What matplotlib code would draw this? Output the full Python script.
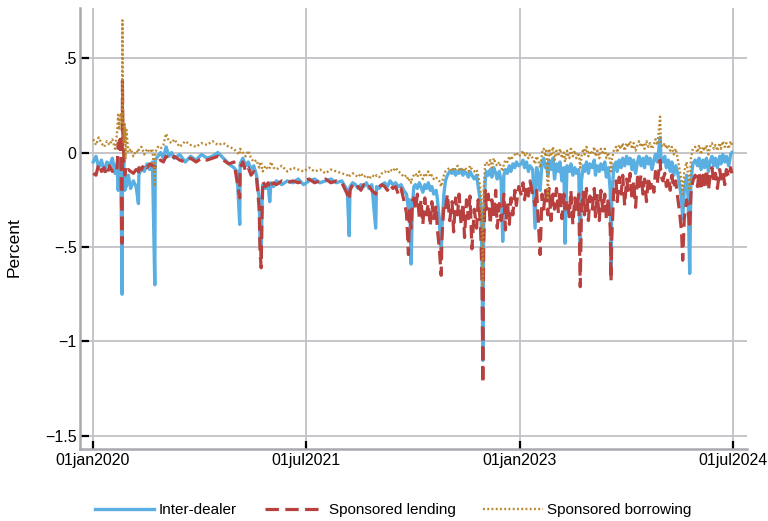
import matplotlib
matplotlib.use('Agg')
import matplotlib.pyplot as plt
import pandas as pd

# ---------------- data ----------------
dates = [
    '2020-01-02', '2020-01-09', '2020-01-16', '2020-01-23', '2020-01-30', '2020-02-06', '2020-02-13', '2020-02-20', '2020-02-27', '2020-03-03',
    '2020-03-06', '2020-03-09', '2020-03-11', '2020-03-13', '2020-03-16', '2020-03-17', '2020-03-18', '2020-03-20', '2020-03-23', '2020-03-25',
    '2020-03-27', '2020-04-01', '2020-04-07', '2020-04-14', '2020-04-21', '2020-04-27', '2020-04-28', '2020-05-05', '2020-05-12', '2020-05-19',
    '2020-05-26', '2020-06-02', '2020-06-08', '2020-06-09', '2020-06-16', '2020-06-23', '2020-06-30', '2020-07-07', '2020-07-14', '2020-07-21',
    '2020-07-28', '2020-08-11', '2020-08-25', '2020-09-08', '2020-09-22', '2020-10-06', '2020-10-20', '2020-11-03', '2020-11-17', '2020-12-01',
    '2020-12-15', '2020-12-28', '2021-01-05', '2021-01-12', '2021-01-13', '2021-01-20', '2021-01-27', '2021-02-03', '2021-02-10', '2021-02-17',
    '2021-02-24', '2021-03-03', '2021-03-05', '2021-03-08', '2021-03-10', '2021-03-12', '2021-03-19', '2021-03-26', '2021-03-30', '2021-04-02',
    '2021-04-09', '2021-04-16', '2021-04-30', '2021-05-14', '2021-05-28', '2021-06-11', '2021-06-25', '2021-07-09', '2021-07-23', '2021-08-06',
    '2021-08-20', '2021-09-03', '2021-09-17', '2021-10-01', '2021-10-15', '2021-10-20', '2021-10-22', '2021-10-29', '2021-11-05', '2021-11-12',
    '2021-11-19', '2021-11-26', '2021-12-03', '2021-12-10', '2021-12-17', '2021-12-27', '2021-12-29', '2022-01-05', '2022-01-12', '2022-01-19',
    '2022-01-26', '2022-02-02', '2022-02-09', '2022-02-16', '2022-02-23', '2022-03-02', '2022-03-09', '2022-03-16', '2022-03-21', '2022-03-24',
    '2022-03-28', '2022-03-31', '2022-04-04', '2022-04-08', '2022-04-13', '2022-04-18', '2022-04-22', '2022-04-27', '2022-05-02', '2022-05-06',
    '2022-05-11', '2022-05-16', '2022-05-20', '2022-05-25', '2022-05-31', '2022-06-03', '2022-06-08', '2022-06-13', '2022-06-15', '2022-06-20',
    '2022-06-24', '2022-06-29', '2022-07-05', '2022-07-11', '2022-07-15', '2022-07-20', '2022-07-25', '2022-07-29', '2022-08-03', '2022-08-08',
    '2022-08-12', '2022-08-17', '2022-08-22', '2022-08-26', '2022-08-31', '2022-09-06', '2022-09-12', '2022-09-16', '2022-09-21', '2022-09-23',
    '2022-09-26', '2022-09-28', '2022-09-30', '2022-10-04', '2022-10-07', '2022-10-12', '2022-10-17', '2022-10-21', '2022-10-26', '2022-10-31',
    '2022-11-04', '2022-11-09', '2022-11-14', '2022-11-18', '2022-11-21', '2022-11-25', '2022-11-30', '2022-12-05', '2022-12-09', '2022-12-14',
    '2022-12-19', '2022-12-23', '2022-12-29', '2023-01-04', '2023-01-09', '2023-01-13', '2023-01-18', '2023-01-23', '2023-01-27', '2023-02-03',
    '2023-02-09', '2023-02-13', '2023-02-17', '2023-02-22', '2023-02-27', '2023-03-03', '2023-03-08', '2023-03-10', '2023-03-14', '2023-03-17',
    '2023-03-22', '2023-03-27', '2023-03-31', '2023-04-05', '2023-04-10', '2023-04-14', '2023-04-19', '2023-04-24', '2023-04-27', '2023-05-02',
    '2023-05-08', '2023-05-12', '2023-05-17', '2023-05-22', '2023-05-26', '2023-06-01', '2023-06-05', '2023-06-08', '2023-06-13', '2023-06-16',
    '2023-06-21', '2023-06-26', '2023-06-30', '2023-07-06', '2023-07-11', '2023-07-14', '2023-07-19', '2023-07-24', '2023-07-28', '2023-08-02',
    '2023-08-07', '2023-08-11', '2023-08-16', '2023-08-21', '2023-08-23', '2023-08-25', '2023-08-30', '2023-09-05', '2023-09-08', '2023-09-13',
    '2023-09-18', '2023-09-22', '2023-09-27', '2023-10-02', '2023-10-06', '2023-10-11', '2023-10-16', '2023-10-20', '2023-10-25', '2023-10-30',
    '2023-11-03', '2023-11-08', '2023-11-13', '2023-11-17', '2023-11-22', '2023-11-27', '2023-12-01', '2023-12-06', '2023-12-11', '2023-12-15',
    '2023-12-20', '2023-12-27', '2023-12-29', '2024-01-03', '2024-01-08', '2024-01-12', '2024-01-17', '2024-01-22', '2024-01-26', '2024-01-31',
    '2024-02-05', '2024-02-09', '2024-02-14', '2024-02-20', '2024-02-23', '2024-02-27', '2024-03-04', '2024-03-08', '2024-03-12', '2024-03-15',
    '2024-03-20', '2024-03-26', '2024-04-01', '2024-04-05', '2024-04-10', '2024-04-15', '2024-04-19', '2024-04-24', '2024-04-29', '2024-05-03',
    '2024-05-08', '2024-05-13', '2024-05-17', '2024-05-22', '2024-05-28', '2024-05-31', '2024-06-05', '2024-06-10', '2024-06-14', '2024-06-20',
    '2024-06-25', '2024-06-28',
]

inter_dealer = [
    -0.05, -0.02, -0.08, -0.04, -0.10, -0.05, -0.07, -0.03, -0.11, -0.06,
    -0.20, -0.08, -0.05, -0.12, -0.75, -0.10, -0.15, -0.05, -0.20, -0.12,
    -0.18, -0.12, -0.19, -0.15, -0.18, -0.27, -0.12, -0.08, -0.10, -0.06,
    -0.09, -0.05, -0.70, -0.04, -0.02, 0.00, -0.03, 0.03, -0.02, 0.00,
    -0.03, -0.01, -0.05, -0.02, -0.04, -0.01, -0.03, -0.02, 0.00, -0.03,
    -0.06, -0.08, -0.10, -0.38, -0.06, -0.03, -0.07, -0.05, -0.09, -0.07,
    -0.12, -0.25, -0.45, -0.55, -0.30, -0.17, -0.19, -0.17, -0.26, -0.16,
    -0.18, -0.15, -0.17, -0.15, -0.16, -0.14, -0.17, -0.15, -0.14, -0.16,
    -0.15, -0.14, -0.16, -0.15, -0.20, -0.44, -0.18, -0.16, -0.17, -0.19,
    -0.17, -0.18, -0.16, -0.19, -0.17, -0.40, -0.18, -0.19, -0.17, -0.16,
    -0.18, -0.15, -0.17, -0.16, -0.18, -0.17, -0.20, -0.22, -0.30, -0.25,
    -0.59, -0.28, -0.18, -0.17, -0.19, -0.16, -0.18, -0.21, -0.17, -0.19,
    -0.16, -0.20, -0.18, -0.22, -0.20, -0.24, -0.35, -0.55, -0.40, -0.22,
    -0.15, -0.12, -0.10, -0.11, -0.09, -0.12, -0.10, -0.11, -0.09, -0.12,
    -0.10, -0.11, -0.13, -0.10, -0.12, -0.14, -0.12, -0.18, -0.25, -0.30,
    -0.60, -1.10, -0.40, -0.15, -0.10, -0.12, -0.09, -0.13, -0.08, -0.11,
    -0.14, -0.10, -0.15, -0.47, -0.12, -0.09, -0.11, -0.07, -0.10, -0.06,
    -0.08, -0.05, -0.07, -0.06, -0.04, -0.08, -0.05, -0.10, -0.07, -0.09,
    -0.40, -0.08, -0.11, -0.20, -0.05, -0.03, -0.08, -0.06, -0.12, -0.04,
    -0.09, -0.03, -0.14, -0.06, -0.10, -0.05, -0.15, -0.08, -0.48, -0.07,
    -0.10, -0.06, -0.12, -0.08, -0.11, -0.09, -0.50, -0.15, -0.07, -0.10,
    -0.05, -0.11, -0.06, -0.08, -0.04, -0.12, -0.07, -0.10, -0.06, -0.09,
    -0.05, -0.13, -0.08, -0.20, -0.61, -0.25, -0.07, -0.05, -0.10, -0.04,
    -0.08, -0.03, -0.07, -0.02, -0.06, -0.03, -0.09, -0.04, -0.11, -0.05,
    -0.02, -0.07, -0.03, -0.08, -0.02, -0.06, -0.03, -0.09, -0.04, -0.01,
    -0.05, 0.08, -0.02, -0.05, -0.02, -0.08, -0.04, -0.10, -0.05, -0.12,
    -0.07, -0.10, -0.15, -0.25, -0.35, -0.20, -0.12, -0.25, -0.64, -0.15,
    -0.06, -0.04, -0.07, -0.03, -0.09, -0.04, -0.08, -0.03, -0.10, -0.05,
    -0.02, -0.07, -0.03, -0.08, -0.02, -0.06, -0.01, -0.05, -0.02, -0.07,
    -0.01, 0.00,
]

sponsored_lending = [
    -0.11, -0.12, -0.06, -0.10, -0.08, -0.12, -0.07, -0.10, -0.08, -0.09,
    0.05, 0.02, 0.07, -0.05, -0.48, 0.38, 0.10, 0.00, -0.12, -0.08,
    -0.10, -0.09, -0.10, -0.11, -0.09, -0.12, -0.08, -0.09, -0.06, -0.08,
    -0.06, -0.07, -0.08, -0.06, -0.05, -0.04, -0.05, -0.02, -0.03, -0.04,
    -0.02, -0.04, -0.05, -0.03, -0.05, -0.03, -0.04, -0.03, -0.02, -0.04,
    -0.06, -0.05, -0.15, -0.24, -0.08, -0.05, -0.10, -0.08, -0.12, -0.10,
    -0.13, -0.30, -0.52, -0.61, -0.35, -0.15, -0.18, -0.16, -0.19, -0.17,
    -0.16, -0.17, -0.15, -0.16, -0.15, -0.16, -0.15, -0.14, -0.16, -0.15,
    -0.14, -0.16, -0.15, -0.16, -0.22, -0.25, -0.20, -0.17, -0.19, -0.18,
    -0.20, -0.17, -0.19, -0.18, -0.20, -0.22, -0.19, -0.18, -0.17, -0.18,
    -0.20, -0.17, -0.19, -0.18, -0.22, -0.19, -0.25, -0.32, -0.54, -0.30,
    -0.40, -0.26, -0.24, -0.30, -0.22, -0.35, -0.25, -0.38, -0.24, -0.33,
    -0.27, -0.39, -0.26, -0.35, -0.28, -0.40, -0.50, -0.65, -0.45, -0.28,
    -0.30, -0.22, -0.36, -0.26, -0.42, -0.24, -0.33, -0.22, -0.38, -0.27,
    -0.45, -0.25, -0.35, -0.23, -0.51, -0.30, -0.40, -0.25, -0.35, -0.45,
    -0.70, -1.22, -0.50, -0.20, -0.30, -0.22, -0.38, -0.25, -0.34, -0.20,
    -0.40, -0.27, -0.36, -0.30, -0.22, -0.41, -0.26, -0.38, -0.24, -0.33,
    -0.20, -0.28, -0.18, -0.22, -0.16, -0.25, -0.18, -0.23, -0.15, -0.22,
    -0.28, -0.20, -0.35, -0.54, -0.22, -0.30, -0.20, -0.27, -0.33, -0.19,
    -0.36, -0.22, -0.30, -0.19, -0.32, -0.20, -0.35, -0.22, -0.30, -0.25,
    -0.34, -0.20, -0.38, -0.24, -0.31, -0.22, -0.71, -0.30, -0.21, -0.33,
    -0.19, -0.36, -0.23, -0.30, -0.19, -0.34, -0.22, -0.36, -0.20, -0.31,
    -0.22, -0.35, -0.24, -0.40, -0.68, -0.45, -0.20, -0.15, -0.26, -0.13,
    -0.22, -0.12, -0.28, -0.14, -0.20, -0.11, -0.25, -0.15, -0.29, -0.13,
    -0.18, -0.12, -0.22, -0.14, -0.26, -0.13, -0.19, -0.15, -0.21, -0.10,
    -0.16, -0.04, -0.12, -0.15, -0.11, -0.18, -0.13, -0.20, -0.12, -0.19,
    -0.15, -0.22, -0.30, -0.42, -0.57, -0.35, -0.25, -0.30, -0.40, -0.22,
    -0.15, -0.12, -0.18, -0.10, -0.20, -0.12, -0.17, -0.09, -0.20, -0.13,
    -0.08, -0.16, -0.11, -0.19, -0.09, -0.14, -0.10, -0.17, -0.09, -0.13,
    -0.08, -0.11,
]

sponsored_borrowing = [
    0.07, 0.04, 0.08, 0.05, 0.03, 0.06, 0.04, 0.07, 0.02, 0.10,
    0.20, 0.12, 0.18, 0.21, 0.15, 0.70, 0.25, 0.05, 0.15, -0.03,
    0.12, 0.00, 0.02, -0.02, 0.01, 0.00, 0.02, 0.03, -0.01, 0.02,
    0.00, 0.02, -0.18, 0.00, 0.03, 0.02, 0.04, 0.10, 0.06, 0.05,
    0.07, 0.03, 0.06, 0.04, 0.03, 0.05, 0.04, 0.06, 0.04, 0.05,
    0.03, 0.02, 0.00, -0.01, 0.02, 0.00, -0.02, 0.01, -0.03, -0.05,
    -0.04, -0.08, -0.06, -0.05, -0.08, -0.10, -0.07, -0.09, -0.08, -0.05,
    -0.08, -0.09, -0.07, -0.10, -0.08, -0.09, -0.10, -0.08, -0.10, -0.09,
    -0.11, -0.09, -0.10, -0.11, -0.12, -0.13, -0.12, -0.11, -0.12, -0.13,
    -0.11, -0.13, -0.12, -0.14, -0.12, -0.13, -0.12, -0.13, -0.11, -0.10,
    -0.11, -0.09, -0.10, -0.08, -0.10, -0.11, -0.13, -0.12, -0.15, -0.14,
    -0.16, -0.13, -0.12, -0.11, -0.13, -0.10, -0.12, -0.14, -0.11, -0.12,
    -0.10, -0.13, -0.12, -0.14, -0.13, -0.14, -0.15, -0.18, -0.16, -0.12,
    -0.10, -0.09, -0.08, -0.10, -0.08, -0.09, -0.07, -0.09, -0.08, -0.10,
    -0.08, -0.09, -0.10, -0.07, -0.09, -0.10, -0.09, -0.12, -0.18, -0.25,
    -0.45, -0.71, -0.20, -0.06, -0.05, -0.07, -0.04, -0.08, -0.03, -0.06,
    -0.07, -0.05, -0.08, -0.10, -0.06, -0.04, -0.05, -0.02, -0.04, -0.02,
    -0.01, 0.00, -0.02, -0.01, 0.01, -0.02, 0.00, -0.03, -0.01, -0.03,
    -0.06, -0.02, -0.04, -0.08, 0.00, 0.02, -0.02, 0.01, -0.25, 0.02,
    -0.02, 0.03, -0.04, 0.01, -0.02, 0.02, -0.03, 0.00, -0.05, 0.01,
    -0.03, 0.02, -0.02, 0.01, -0.03, 0.00, -0.08, -0.02, 0.02, -0.01,
    0.03, -0.02, 0.01, -0.01, 0.03, -0.02, 0.01, -0.03, 0.02, -0.01,
    0.02, -0.03, 0.00, -0.05, -0.10, -0.04, 0.01, 0.03, 0.00, 0.04,
    0.02, 0.05, 0.01, 0.05, 0.03, 0.06, 0.02, 0.05, 0.01, 0.04,
    0.06, 0.03, 0.05, 0.02, 0.06, 0.03, 0.05, 0.02, 0.04, 0.07,
    0.04, 0.19, 0.05, 0.03, 0.05, 0.02, 0.04, 0.01, 0.03, -0.01,
    0.02, -0.02, -0.08, -0.15, -0.22, -0.10, -0.05, -0.12, -0.20, -0.03,
    0.02, 0.03, 0.00, 0.04, -0.01, 0.03, 0.01, 0.04, -0.01, 0.03,
    0.05, 0.02, 0.04, 0.01, 0.05, 0.02, 0.06, 0.03, 0.05, 0.02,
    0.06, 0.04,
]

series_labels = ['Inter-dealer', 'Sponsored lending', 'Sponsored borrowing']
xtick_dates = ['2020-01-01', '2021-07-01', '2023-01-01', '2024-07-01']
xtick_labels = ['01jan2020', '01jul2021', '01jan2023', '01jul2024']
ytick_values = [0.5, 0.0, -0.5, -1.0, -1.5]
ytick_labels = ['.5', '0', '\u2212.5', '\u22121', '\u22121.5']

# ---------------- figure ----------------
plt.rcParams['font.family'] = ['Liberation Sans', 'DejaVu Sans']

W, H = 768, 521
fig = plt.figure(figsize=(W / 100, H / 100), dpi=100)
ax = fig.add_axes([80 / W, 1 - 449 / H, 667 / W, 441 / H])

x = pd.to_datetime(dates)
ax.plot(x, inter_dealer, color='#5AAFE2', lw=2.4, label=series_labels[0], zorder=3)
ax.plot(x, sponsored_lending, color='#B8413F', lw=2.3, dashes=(4.2, 2.0),
        label=series_labels[1], zorder=4)
ax.plot(x, sponsored_borrowing, color='#BA8730', lw=1.7, dashes=(0.8, 1.0),
        label=series_labels[2], zorder=5)

ax.set_xlim(pd.Timestamp('2019-11-29'), pd.Timestamp('2024-08-06'))
ax.set_ylim(-1.569, 0.765)

ax.set_xticks(pd.to_datetime(xtick_dates))
ax.set_xticklabels(xtick_labels)
ax.set_yticks(ytick_values)
ax.set_yticklabels(ytick_labels)

ax.grid(True, color='#C2C2C6', lw=1.3)
ax.set_axisbelow(True)
for s in ['top', 'right']:
    ax.spines[s].set_visible(False)
for s in ['left', 'bottom']:
    ax.spines[s].set_color('#A9A9AE')
    ax.spines[s].set_linewidth(1.8)

ax.tick_params(axis='y', direction='in', length=6.5, width=1.6, color='black',
               labelsize=11.5, pad=2.5)
ax.tick_params(axis='x', direction='in', length=6, width=1.6, color='black',
               labelsize=11.5, pad=3)

fig.text(14 / W, 1 - 247 / H, 'Percent', rotation=90, ha='center', va='center',
         fontsize=12.5)

fig.legend(loc='center', bbox_to_anchor=(0.512, 1 - 510 / H), ncol=3,
           frameon=False, fontsize=11, handlelength=3.9, handletextpad=0.3,
           columnspacing=1.8)

fig.savefig('out.png', dpi=100)
